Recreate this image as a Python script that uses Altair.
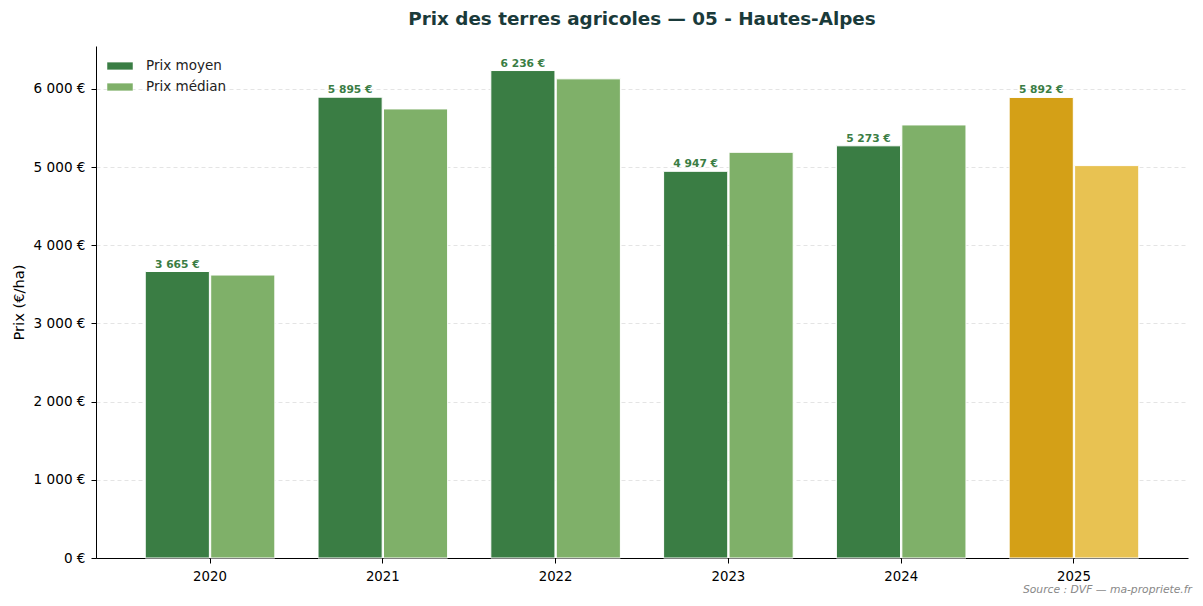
import altair as alt
import pandas as pd

years = ["2020", "2021", "2022", "2023", "2024", "2025"]
prix_moyen = [3665, 5895, 6236, 4947, 5273, 5892]
prix_median = [3620, 5745, 6130, 5190, 5540, 5020]
y_ticks = [0, 1000, 2000, 3000, 4000, 5000, 6000]

rows = []
for y, m, med in zip(years, prix_moyen, prix_median):
    partial = y == "2025"
    rows.append({"year": y, "serie": "Prix moyen", "value": m,
                 "key": "2025 moyen" if partial else "Prix moyen",
                 "label": f"{m:,}".replace(",", " ") + " €"})
    rows.append({"year": y, "serie": "Prix médian", "value": med,
                 "key": "2025 médian" if partial else "Prix médian",
                 "label": ""})
df = pd.DataFrame(rows)

W, H = 1092, 512

x_enc = alt.X("year:N", title=None,
              scale=alt.Scale(paddingInner=0.25, paddingOuter=0.285),
              axis=alt.Axis(labelAngle=0, labelFontSize=13.3, labelColor="#000",
                            domainColor="#000", tickColor="#000", tickSize=5,
                            labelPadding=6, grid=False))
xo_enc = alt.XOffset("serie:N", scale=alt.Scale(domain=["Prix moyen", "Prix médian"],
                                                 paddingInner=0.02))
y_enc = alt.Y("value:Q", title="Prix (€/ha)",
              scale=alt.Scale(domain=[0, 6550], nice=False, zero=True),
              axis=alt.Axis(values=y_ticks, labelFontSize=13.6, labelColor="#000",
                            labelPadding=6,
                            titleFontSize=14.7, titleFontWeight="normal", titleColor="#000",
                            titlePadding=7,
                            labelExpr="replace(format(datum.value, ','), ',', ' ') + ' €'",
                            domainColor="#000", tickColor="#000", tickSize=5,
                            grid=True, gridColor="#dddddd", gridDash=[4, 3],
                            gridWidth=0.8))

color_enc = alt.Color("key:N",
                      scale=alt.Scale(domain=["Prix moyen", "Prix médian", "2025 moyen", "2025 médian"],
                                      range=["#3a7d44", "#7fb069", "#d4a017", "#e8c252"]),
                      legend=alt.Legend(values=["Prix moyen", "Prix médian"], title=None,
                                        orient="none", legendX=17, legendY=13,
                                        symbolType="M-2,-0.6L2,-0.6L2,0.6L-2,0.6Z",
                                        symbolSize=169, symbolStrokeColor="#ffffff",
                                        symbolStrokeWidth=0.5, labelFontSize=13.5,
                                        labelColor="#222", rowPadding=7, labelOffset=19,
                                        padding=0))

bars = alt.Chart(df).mark_bar(stroke="white", strokeWidth=1).encode(
    x=x_enc, xOffset=xo_enc, y=y_enc, color=color_enc
)

labels = alt.Chart(df).transform_filter("datum.serie == 'Prix moyen'").mark_text(
    baseline="bottom", dy=-2, fontSize=10.7, fontWeight="bold", color="#3a7d44"
).encode(x=x_enc, xOffset=xo_enc, y=y_enc, text="label:N")

source = alt.Chart(pd.DataFrame({"t": ["Source : DVF — ma-propriete.fr"]})).mark_text(
    align="right", baseline="alphabetic", fontSize=10.75, fontStyle="italic", color="#888888"
).encode(x=alt.value(W + 4), y=alt.value(H + 35), text="t:N")

chart = alt.layer(bars, labels, source).properties(
    width=W, height=H,
    title=alt.Title("Prix des terres agricoles — 05 - Hautes-Alpes", fontSize=18.35,
                    fontWeight="bold", color="#1a3a3a", offset=17, anchor="middle"),
    autosize=alt.AutoSizeParams(type="none"),
    padding={"left": 88, "top": 38, "right": 7, "bottom": 40},
).configure(font="DejaVu Sans").configure_view(stroke=None)

chart.save("out.html", embed_options={"renderer": "svg", "actions": False})
